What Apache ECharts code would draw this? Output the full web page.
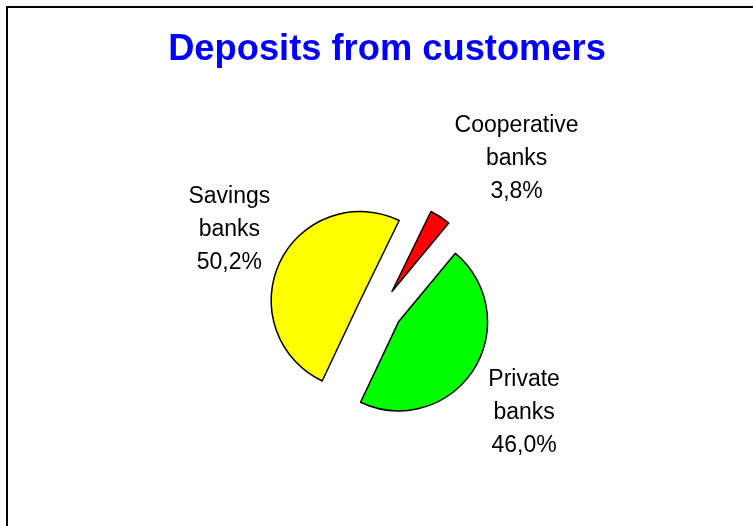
<!DOCTYPE html>
<html><head><meta charset="utf-8">
<script src="https://cdn.jsdelivr.net/npm/echarts@6/dist/echarts.min.js"></script>
<style>html,body{margin:0;padding:0;background:#fff;overflow:hidden}#c{width:753px;height:526px}</style>
</head><body><div id="c"></div>
<script>
const titleText = 'Deposits from customers';
const categories = ['Cooperative banks', 'Private banks', 'Savings banks'];
const labelNames = ['Cooperative\nbanks', 'Private\nbanks', 'Savings\nbanks'];
const shares = [3.8, 46.0, 50.2];
const colors = ['#FF0000', '#00FF00', '#FFFF00'];
const labelReach = [69, 80, 75];
const labelShift = [39, -17, -17];

const chart = echarts.init(document.getElementById('c'), null, {renderer: 'canvas'});
const data = categories.map((name, i) => ({
  name: name,
  value: shares[i],
  selected: true,
  itemStyle: {color: colors[i]},
  labelLine: {show: false, length: labelReach[i], length2: labelShift[i]}
}));

chart.setOption({
  animation: false,
  backgroundColor: '#fff',
  title: {
    text: titleText,
    left: 387,
    textAlign: 'center',
    top: 32,
    padding: 0,
    textStyle: {color: '#0000FF', fontWeight: 'bold', fontSize: 36.3, fontFamily: 'Liberation Sans'}
  },
  graphic: [{
    type: 'polyline', z: -10,
    shape: {points: [[7, 540], [7, 7], [760, 7]]},
    style: {fill: null, stroke: '#000', lineWidth: 2}
  }],
  series: [{
    type: 'pie',
    center: [380, 310],
    radius: 89,
    startAngle: 64,
    clockwise: true,
    selectedMode: 'multiple',
    selectedOffset: 22,
    avoidLabelOverlap: false,
    itemStyle: {borderColor: '#000', borderWidth: 1.5},
    select: {itemStyle: {borderColor: '#000', borderWidth: 1.5}},
    emphasis: {disabled: true, scale: false},
    label: {
      show: true,
      position: 'outside',
      fontFamily: 'Liberation Sans',
      fontSize: 23,
      lineHeight: 33,
      color: '#000',
      distanceToLabelLine: 0,
      formatter: p => labelNames[p.dataIndex] + '\n' + p.value.toFixed(1).replace('.', ',') + '%'
    },
    labelLine: {show: false},
    labelLayout: () => ({align: 'center', verticalAlign: 'middle'}),
    data: data
  }]
});
</script></body></html>
